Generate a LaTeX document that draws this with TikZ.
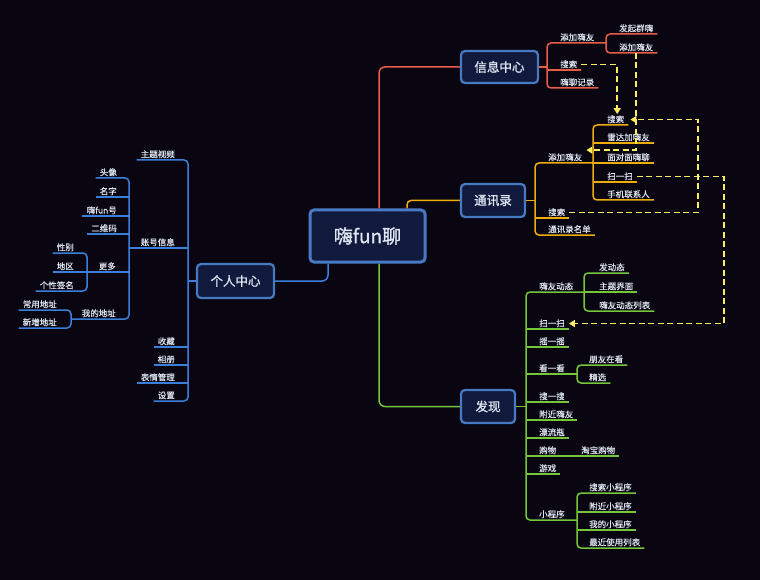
\documentclass[tikz,border=0pt]{standalone}
\usepackage{fontspec}
\newfontfamily\cjk[FakeBold=0.35]{Noto Sans CJK SC}
\newfontfamily\cjkb[FakeBold=1.2]{Noto Sans CJK SC}
\usetikzlibrary{arrows.meta}
\definecolor{bg}{RGB}{9,6,18}
\definecolor{nodefill}{RGB}{17,26,60}
\definecolor{nodeline}{RGB}{72,122,196}
\definecolor{txt}{RGB}{222,230,242}
\definecolor{cred}{RGB}{232,92,72}
\definecolor{corange}{RGB}{238,172,10}
\definecolor{cgreen}{RGB}{118,198,58}
\definecolor{cblue}{RGB}{58,128,218}
\definecolor{cdash}{RGB}{250,238,96}
\pgfdeclarelayer{back}
\pgfsetlayers{back,main}
\begin{document}
\begin{tikzpicture}[x=1bp,y=-1bp,
  topic/.style={draw=nodeline, line width=2.2bp, fill=nodefill, rounded corners=4bp, text=txt,
    font=\cjkb\fontsize{12.5bp}{14bp}\selectfont, inner xsep=0pt, inner ysep=0pt, minimum height=33bp},
  leafr/.style={anchor=south west, text=txt, font=\cjk\fontsize{8.5bp}{10bp}\selectfont,
    inner xsep=4bp, inner ysep=1bp, text height=7.2bp, text depth=1.3bp},
  leafl/.style={leafr, anchor=south east},
  br/.style={line width=1.5bp, rounded corners=4bp},
  trunk/.style={line width=1.5bp, rounded corners=6bp},
  link/.style={-{Triangle[length=6bp,width=7bp]}, draw=cdash, line width=1.8bp, dash pattern=on 6bp off 3.5bp}
]
\useasboundingbox (0,0) rectangle (760,580);
% ---------- topics ----------
\node[topic, minimum width=115bp, minimum height=52bp, line width=3bp,
      font=\cjkb\fontsize{19bp}{22bp}\selectfont] (root) at (367.5,236) {嗨fun聊};
\node[topic, minimum width=77bp, minimum height=32bp] (info) at (499.5,67) {信息中心};
\node[topic, minimum width=64bp] (contacts) at (493,200.5) {通讯录};
\node[topic, minimum width=54bp] (disc) at (488,406.5) {发现};
\node[topic, minimum width=77bp, minimum height=34bp] (me) at (235.5,281) {个人中心};

% ---------- bracket coordinates ----------
\coordinate (bI) at (547,0);  \coordinate (bI1) at (606,0);
\coordinate (bC) at (535,0);  \coordinate (bC1) at (593,0);
\coordinate (bF) at (526,0);  \coordinate (bF1) at (584,0);
\coordinate (bF4) at (577,0); \coordinate (bF10) at (577,0);
\coordinate (bP) at (188,0);  \coordinate (bP2) at (129,0);
\coordinate (bP25) at (87,0); \coordinate (bP26) at (71,0);
\coordinate (d3) at (698,0);  \coordinate (d4) at (724,0);

% ---------- 信息中心 ----------
\node[leafr] (i1) at (556,43) {添加嗨友};
\node[leafr] (i11) at (615,34) {发起群嗨};
\node[leafr] (i12) at (615,53) {添加嗨友};
\node[leafr] (i2) at (556,70) {搜索};
\node[leafr] (i3) at (556,88) {嗨聊记录};

% ---------- 通讯录 ----------
\node[leafr] (c1) at (544,163) {添加嗨友};
\node[leafr] (s3) at (603,125) {搜索};
\node[leafr] (c12) at (603,143) {雷达加嗨友};
\node[leafr] (c13) at (603,163) {面对面嗨聊};
\node[leafr] (c14) at (603,182) {扫一扫};
\node[leafr] (c15) at (603,200) {手机联系人};
\node[leafr] (c2) at (544,218) {搜索};
\node[leafr] (c3) at (544,235) {通讯录名单};

% ---------- 发现 ----------
\node[leafr] (f1) at (535,292) {嗨友动态};
\node[leafr] (f11) at (595,273) {发动态};
\node[leafr] (f12) at (595,292) {主题界面};
\node[leafr] (f13) at (595,311) {嗨友动态列表};
\node[leafr] (f2) at (535,329) {扫一扫};
\node[leafr] (f3) at (535,347) {摇一摇};
\node[leafr] (f4) at (535,374) {看一看};
\node[leafr] (f41) at (585,365) {朋友在看};
\node[leafr] (f42) at (585,383) {精选};
\node[leafr] (f5) at (535,402) {搜一搜};
\node[leafr] (f6) at (535,420) {附近嗨友};
\node[leafr] (f7) at (535,438) {漂流瓶};
\node[leafr] (f8) at (535,456) {购物};
\node[leafr] (f81) at (577,456) {淘宝购物};
\node[leafr] (f9) at (535,474) {游戏};
\node[leafr] (f10) at (535,520) {小程序};
\node[leafr] (f101) at (585,493) {搜索小程序};
\node[leafr] (f102) at (585,512) {附近小程序};
\node[leafr] (f103) at (585,530) {我的小程序};
\node[leafr] (f104) at (585,548) {最近使用列表};

% ---------- 个人中心 ----------
\node[leafl] (p1) at (179,160) {主题视频};
\node[leafl] (p2) at (179,248) {账号信息};
\node[leafl] (p21) at (121,178) {头像};
\node[leafl] (p22) at (121,197) {名字};
\node[leafl] (p23) at (121,216) {嗨fun号};
\node[leafl] (p24) at (121,234) {二维码};
\node[leafl] (p25) at (120,272) {更多};
\node[leafl] (p251) at (78,253) {性别};
\node[leafl] (p252) at (78,272) {地区};
\node[leafl] (p253) at (78,291) {个性签名};
\node[leafl] (p26) at (120,319) {我的地址};
\node[leafl] (p261) at (61,310) {常用地址};
\node[leafl] (p262) at (61,328) {新增地址};
\node[leafl] (p3) at (179,347) {收藏};
\node[leafl] (p4) at (179,365) {相册};
\node[leafl] (p5) at (179,383) {表情管理};
\node[leafl] (p6) at (179,401) {设置};

\begin{pgfonlayer}{back}
\fill[bg] (0,0) rectangle (760,580);
% trunks
\draw[cred, trunk] ([xshift=11.5bp]root.north) |- (info.west);
\draw[corange, trunk, rounded corners=4bp] ([xshift=39.5bp]root.north) |- (contacts.west);
\draw[cgreen, trunk] ([xshift=11.5bp]root.south) |- (disc.west);
\draw[cblue, trunk] ([xshift=-39.5bp]root.south) |- (me.east);
\end{pgfonlayer}

% 信息中心 branches
\draw[cred, br] (info.east) -- (info.east -| bI);
\draw[cred, br] (i1.south west -| bI1) -- (i1.south west -| bI) -- (i3.south west -| bI) -- (i3.south east);
\draw[cred, br] (i2.south west -| bI) -- (i2.south east);
\draw[cred, br] (i11.south east) -- (i11.south west -| bI1) -- (i12.south west -| bI1) -- (i12.south east);

% 通讯录 branches
\draw[corange, br] (contacts.east) -- (contacts.east -| bC);
\draw[corange, br] (c1.south west -| bC1) -- (c1.south west -| bC) -- (c3.south west -| bC) -- (c3.south east);
\draw[corange, br] (c2.south west -| bC) -- (c2.south east);
\draw[corange, br] (s3.south east) -- (s3.south west -| bC1) -- (c15.south west -| bC1) -- (c15.south east);
\foreach \n in {c12,c13,c14} \draw[corange, br] (\n.south west -| bC1) -- (\n.south east);

% 发现 branches
\draw[cgreen, br] (disc.east) -- (disc.east -| bF);
\draw[cgreen, br] (f1.south west -| bF1) -- (f1.south west -| bF) -- (f10.south west -| bF) -- (f10.south west -| bF10);
\foreach \n in {f2,f3,f5,f6,f7,f9} \draw[cgreen, br] (\n.south west -| bF) -- (\n.south east);
\draw[cgreen, br] (f4.south west -| bF) -- (f4.south west -| bF4);
\draw[cgreen, br] (f8.south west -| bF) -- (f81.south east);
\draw[cgreen, br] (f11.south east) -- (f11.south west -| bF1) -- (f13.south west -| bF1) -- (f13.south east);
\draw[cgreen, br] (f12.south west -| bF1) -- (f12.south east);
\draw[cgreen, br] (f41.south east) -- (f41.south west -| bF4) -- (f42.south west -| bF4) -- (f42.south east);
\draw[cgreen, br] (f101.south east) -- (f101.south west -| bF10) -- (f104.south west -| bF10) -- (f104.south east);
\foreach \n in {f102,f103} \draw[cgreen, br] (\n.south west -| bF10) -- (\n.south east);

% 个人中心 branches
\draw[cblue, br] (me.west) -- (me.west -| bP);
\draw[cblue, br] (p1.south west) -- (p1.south east -| bP) -- (p6.south east -| bP) -- (p6.south west);
\draw[cblue, br] (p2.south east -| bP) -- (p2.south east -| bP2);
\foreach \n in {p3,p4,p5} \draw[cblue, br] (\n.south east -| bP) -- (\n.south west);
\draw[cblue, br] (p21.south west) -- (p21.south east -| bP2) -- (p26.south east -| bP2) -- (p26.south east -| bP26);
\foreach \n in {p22,p23,p24} \draw[cblue, br] (\n.south east -| bP2) -- (\n.south west);
\draw[cblue, br] (p25.south east -| bP2) -- (p25.south east -| bP25);
\draw[cblue, br] (p251.south west) -- (p251.south east -| bP25) -- (p253.south east -| bP25) -- (p253.south west);
\draw[cblue, br] (p252.south east -| bP25) -- (p252.south west);
\draw[cblue, br] (p261.south west) -- (p261.south east -| bP26) -- (p262.south east -| bP26) -- (p262.south west);

% dashed cross links
\draw[link] (i2.east) -| ([xshift=1.5bp]s3.north);
\draw[link] (i12.south) |- ([yshift=2bp]c1.north east);
\draw[link] (c2.east) -- (c2.east -| d3) -- (s3.east -| d3) -- ([xshift=2bp]s3.east);
\draw[link] (c14.east) -- (c14.east -| d4) -- (f2.east -| d4) -- (f2.east);
\end{tikzpicture}
\end{document}
